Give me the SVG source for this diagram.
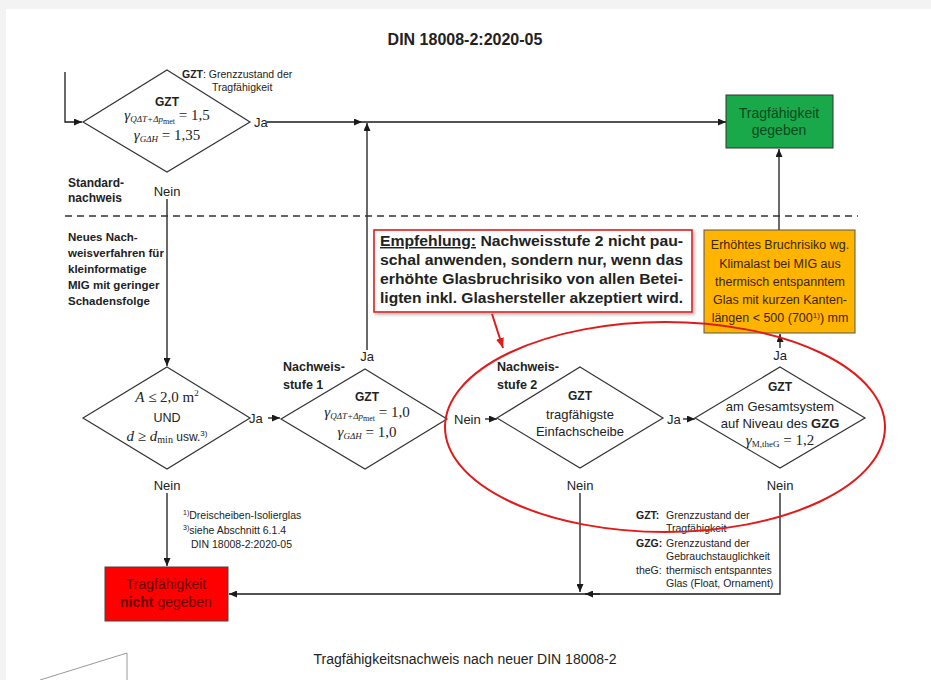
<svg xmlns="http://www.w3.org/2000/svg" width="931" height="680" viewBox="0 0 931 680">
<style>
.t{font-family:"Liberation Sans Narrow","Liberation Sans",Arial,sans-serif;fill:#222}
.b{font-weight:bold}
.c{text-anchor:middle}
.m{font-family:"Liberation Serif","Times New Roman",serif;fill:#222}
.ln{stroke:#1a1a1a;stroke-width:1.3;fill:none}
.dm{fill:#fff;stroke:#333;stroke-width:1.2}
.red{stroke:#e11b1b;fill:none}
</style>
<defs>
<marker id="ar" markerWidth="8" markerHeight="7" refX="8" refY="3.5" orient="auto" markerUnits="userSpaceOnUse"><path d="M0,0 L8,3.5 L0,7 z" fill="#1a1a1a"/></marker>
<marker id="arr" markerWidth="10" markerHeight="8" refX="10" refY="4" orient="auto" markerUnits="userSpaceOnUse"><path d="M0,0 L10,4 L0,8 z" fill="#e11b1b"/></marker>
<filter id="sh" x="-5%" y="-10%" width="115%" height="130%"><feDropShadow dx="2" dy="2" stdDeviation="1.5" flood-color="#888" flood-opacity="0.6"/></filter>
</defs>
<rect x="0" y="0" width="931" height="680" fill="#f3f3f3"/>
<rect x="6" y="9" width="925" height="671" fill="#fff"/>

<text class="t b c" x="465" y="45" font-size="16">DIN 18008-2:2020-05</text>

<g id="connectors">
<path class="ln" d="M65,72 V122 H82" marker-end="url(#ar)"/>
<path class="ln" d="M267,122 H362" marker-end="url(#ar)"/>
<path class="ln" d="M362,122 H726" marker-end="url(#ar)"/>
<path class="ln" d="M367,350 V123" marker-end="url(#ar)"/>
<path class="ln" d="M779,230 V149" marker-end="url(#ar)"/>
<path class="ln" d="M167,199 V366" marker-end="url(#ar)"/>
<path class="ln" d="M268,418 H280" marker-end="url(#ar)"/>
<path class="ln" d="M485,419 H497" marker-end="url(#ar)"/>
<path class="ln" d="M683,419 H695" marker-end="url(#ar)"/>
<path class="ln" d="M780,348 V334" marker-end="url(#ar)"/>
<path class="ln" d="M167,493 V566" marker-end="url(#ar)"/>
<path class="ln" d="M580,493 V592" marker-end="url(#ar)"/>
<path class="ln" d="M780,493 V594 H229" marker-end="url(#ar)"/>
<path class="ln" d="M600,594 H585" marker-end="url(#ar)"/>
<path d="M40,680 L127,653 V680" stroke="#999" stroke-width="1" fill="none"/>
</g>

<g id="standard">
<text class="t b" x="68" y="187" font-size="12">Standard-</text>
<text class="t b" x="68" y="202" font-size="12">nachweis</text>
</g>
<line x1="65" y1="216" x2="858" y2="216" stroke="#333" stroke-width="1.5" stroke-dasharray="7,5"/>
<g id="neues">
<text class="t b" font-size="11.5" x="68"><tspan x="68" y="241">Neues Nach-</tspan><tspan x="68" y="257">weisverfahren für</tspan><tspan x="68" y="273">kleinformatige</tspan><tspan x="68" y="289">MIG mit geringer</tspan><tspan x="68" y="305">Schadensfolge</tspan></text>
</g>

<g id="d1">
<polygon class="dm" points="167,70 250,122 167,172 83,122"/>
<text class="t b c" x="167" y="106" font-size="12">GZT</text>
<text class="m c" x="167" y="120" font-size="15"><tspan font-style="italic">γ</tspan><tspan font-size="9" dy="2" font-style="italic">QΔT+Δp</tspan><tspan font-size="8" dy="1.5">met</tspan><tspan dy="-3.5"> = 1,5</tspan></text>
<text class="m c" x="167" y="140" font-size="15"><tspan font-style="italic">γ</tspan><tspan font-size="9" dy="2" font-style="italic">GΔH</tspan><tspan dy="-2"> = 1,35</tspan></text>
<text class="t" x="182" y="78" font-size="10.5"><tspan font-weight="bold">GZT</tspan>:  Grenzzustand der</text>
<text class="t" x="212" y="91" font-size="10.5">Tragfähigkeit</text>
<text class="t" x="254" y="127" font-size="13">Ja</text>
<text class="t c" x="167" y="196" font-size="13">Nein</text>
</g>

<g id="ok">
<rect x="726" y="95" width="107" height="53" fill="#19a84a" stroke="#333" stroke-width="1"/>
<text class="t c" x="779" y="118" font-size="14" style="fill:#0a4a1c">Tragfähigkeit</text>
<text class="t c" x="779" y="135" font-size="14" style="fill:#0a4a1c">gegeben</text>
</g>

<g id="orange">
<rect x="704" y="230" width="151" height="103" fill="#ffb400" stroke="#555" stroke-width="1"/>
<text class="t c" font-size="12.5" style="fill:#3a2600"><tspan x="780" y="249">Erhöhtes Bruchrisiko wg.</tspan><tspan x="780" y="268">Klimalast bei MIG aus</tspan><tspan x="780" y="286">thermisch entspanntem</tspan><tspan x="780" y="304">Glas mit kurzen Kanten-</tspan><tspan x="780" y="322">längen &lt; 500 (700<tspan font-size="8" dy="-4">1)</tspan><tspan dy="4">) mm</tspan></tspan></text>
</g>

<g id="callout">
<rect x="374" y="230" width="318" height="82" fill="#fff" stroke="#e11b1b" stroke-width="1.6" filter="url(#sh)"/>
<text class="t b" font-size="14.5" style="font-family:'Liberation Sans',Arial,sans-serif"><tspan x="380" y="246" textLength="303" lengthAdjust="spacingAndGlyphs"><tspan text-decoration="underline">Empfehlung:</tspan> Nachweisstufe 2 nicht pau-</tspan><tspan x="380" y="265" textLength="303" lengthAdjust="spacingAndGlyphs">schal anwenden, sondern nur, wenn das</tspan><tspan x="380" y="284" textLength="303" lengthAdjust="spacingAndGlyphs">erhöhte Glasbruchrisiko von allen Betei-</tspan><tspan x="380" y="303" textLength="303" lengthAdjust="spacingAndGlyphs">ligten inkl. Glashersteller akzeptiert wird.</tspan></text>
</g>

<g id="d3">
<polygon class="dm" points="167,367 250,418 167,469 83,418"/>
<text class="m c" x="167" y="402" font-size="15"><tspan font-style="italic">A</tspan> ≤ 2,0 m<tspan font-size="9" dy="-6">2</tspan></text>
<text class="t c" x="167" y="422" font-size="12.5">UND</text>
<text class="m c" x="167" y="441" font-size="15"><tspan font-style="italic">d</tspan> ≥ <tspan font-style="italic">d</tspan><tspan font-size="10" dy="2">min</tspan><tspan dy="-2" font-size="12" style="font-family:'Liberation Sans Narrow','Liberation Sans',sans-serif"> usw.</tspan><tspan font-size="8" dy="-5" style="font-family:'Liberation Sans',sans-serif">3)</tspan></text>
<text class="t" x="249" y="423" font-size="13">Ja</text>
<text class="t c" x="167" y="490" font-size="13">Nein</text>
</g>

<g id="d4">
<polygon class="dm" points="365,369 447,419 365,469 281,419"/>
<text class="t b" x="283" y="371" font-size="12.5">Nachweis-</text>
<text class="t b" x="283" y="389" font-size="12.5">stufe 1</text>
<text class="t b c" x="367" y="401" font-size="12">GZT</text>
<text class="m c" x="367" y="417" font-size="15"><tspan font-style="italic">γ</tspan><tspan font-size="9" dy="2" font-style="italic">QΔT+Δp</tspan><tspan font-size="8" dy="1.5">met</tspan><tspan dy="-3.5"> = 1,0</tspan></text>
<text class="m c" x="367" y="437" font-size="15"><tspan font-style="italic">γ</tspan><tspan font-size="9" dy="2" font-style="italic">GΔH</tspan><tspan dy="-2"> = 1,0</tspan></text>
<text class="t c" x="367" y="361" font-size="13">Ja</text>
<text class="t" x="454" y="424" font-size="13">Nein</text>
</g>

<g id="d5">
<polygon class="dm" points="580,367 663,418 580,468 497,418"/>
<text class="t b" x="497" y="371" font-size="12.5">Nachweis-</text>
<text class="t b" x="497" y="389" font-size="12.5">stufe 2</text>
<text class="t b c" x="580" y="400" font-size="12">GZT</text>
<text class="t c" x="580" y="419" font-size="13">tragfähigste</text>
<text class="t c" x="580" y="436" font-size="13">Einfachscheibe</text>
<text class="t" x="667" y="424" font-size="13">Ja</text>
<text class="t c" x="580" y="490" font-size="13">Nein</text>
</g>

<g id="d6">
<polygon class="dm" points="780,367 865,418 780,468 695,418"/>
<text class="t b c" x="780" y="391" font-size="12">GZT</text>
<text class="t c" x="780" y="411" font-size="13">am Gesamtsystem</text>
<text class="t c" x="780" y="428" font-size="13">auf Niveau des <tspan font-weight="bold">GZG</tspan></text>
<text class="m c" x="780" y="445" font-size="15"><tspan font-style="italic">γ</tspan><tspan font-size="9" dy="2">M,theG</tspan><tspan dy="-2"> = 1,2</tspan></text>
<text class="t c" x="780" y="360" font-size="13">Ja</text>
<text class="t c" x="780" y="490" font-size="13">Nein</text>
</g>

<g id="notok">
<rect x="105" y="567" width="123" height="54" fill="#ff0000" stroke="#444" stroke-width="1"/>
<text class="t c" x="166" y="589" font-size="14" style="fill:#6a0000">Tragfähigkeit</text>
<text class="t c" x="166" y="607" font-size="14" style="fill:#6a0000"><tspan font-weight="bold">nicht</tspan> gegeben</text>
</g>

<g id="footnotes">
<text class="t" x="183" y="519" font-size="10.5"><tspan font-size="7" dy="-4">1)</tspan><tspan dy="4">Dreischeiben-Isolierglas</tspan></text>
<text class="t" x="183" y="534" font-size="10.5"><tspan font-size="7" dy="-4">3)</tspan><tspan dy="4">siehe Abschnitt 6.1.4</tspan></text>
<text class="t" x="191" y="548" font-size="10.5">DIN 18008-2:2020-05</text>
</g>

<g id="legend">
<text class="t b" x="636" y="519" font-size="10.5">GZT:</text>
<text class="t" x="666" y="519" font-size="10.5">Grenzzustand der</text>
<text class="t" x="666" y="532" font-size="10.5">Tragfähigkeit</text>
<text class="t b" x="636" y="547" font-size="10.5">GZG:</text>
<text class="t" x="666" y="547" font-size="10.5">Grenzzustand der</text>
<text class="t" x="666" y="560" font-size="10.5">Gebrauchstauglichkeit</text>
<text class="t" x="636" y="574" font-size="10.5">theG:</text>
<text class="t" x="666" y="574" font-size="10.5">thermisch entspanntes</text>
<text class="t" x="666" y="587" font-size="10.5">Glas (Float, Ornament)</text>
</g>

<g id="highlight">
<ellipse class="red" cx="665" cy="427" rx="220" ry="105" stroke-width="2"/>
<path class="red" d="M492,314 L503,348" stroke-width="2" marker-end="url(#arr)"/>
</g>

<text class="t c" x="465" y="664" font-size="14">Tragfähigkeitsnachweis nach neuer DIN 18008-2</text>
</svg>
